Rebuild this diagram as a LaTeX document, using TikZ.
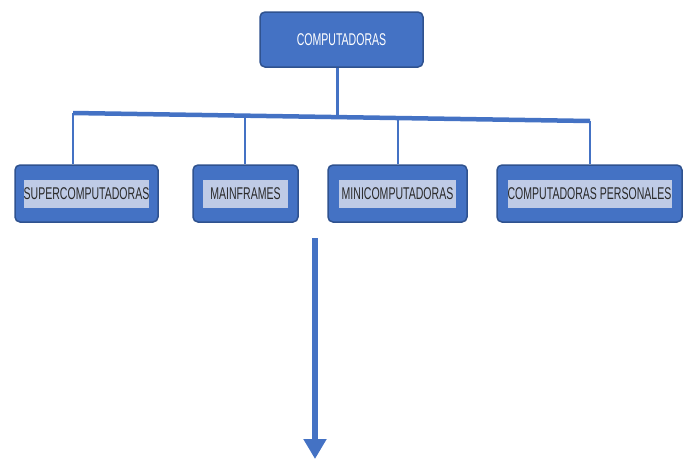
\documentclass[tikz,border=0pt]{standalone}
\usepackage{fontspec}
\newfontfamily\cond[FakeStretch=0.62]{Liberation Sans}
\usetikzlibrary{arrows.meta,calc}
\definecolor{boxblue}{HTML}{4472C4}
\definecolor{boxedge}{HTML}{2F528F}
\definecolor{innerfill}{HTML}{BFCBE6}
\definecolor{txt}{HTML}{2A2A2A}
\tikzset{
  outerbox/.style={draw=boxedge, line width=1.5pt, fill=boxblue, rounded corners=5pt, minimum height=57pt, inner sep=0pt},
  innerbox/.style={fill=innerfill, minimum height=28pt, inner sep=0pt, font=\cond\fontsize{17}{19}\selectfont, text=txt},
  topbox/.style={outerbox, minimum width=163pt, minimum height=55pt, font=\cond\fontsize{17}{19}\selectfont, text=white},
  link/.style={draw=boxblue, line width=2.5pt},
  bar/.style={draw=boxblue, line width=4.5pt},
}
\begin{document}
\begin{tikzpicture}[x=1pt,y=-1pt]
\useasboundingbox (0,0) rectangle (685,459);
\node[topbox] (top) at (341.5,39.5) {COMPUTADORAS};
\node[outerbox, minimum width=143pt] (sup) at (86.5,193.5) {};
\node[innerbox, minimum width=125pt] (supt) at (sup.center) {SUPERCOMPUTADORAS};
\node[outerbox, minimum width=105pt] (mai) at (245.5,193.5) {};
\node[innerbox, minimum width=85pt] (mait) at (mai.center) {MAINFRAMES};
\node[outerbox, minimum width=139pt] (min) at (397.5,193.5) {};
\node[innerbox, minimum width=117pt] (mint) at (min.center) {MINICOMPUTADORAS};
\node[outerbox, minimum width=185pt] (per) at (589.5,193.5) {};
\node[innerbox, minimum width=164pt] (pert) at (per.center) {COMPUTADORAS PERSONALES};
\coordinate (b1) at (73,113);
\coordinate (b4) at (590,121);
\coordinate (bm) at ($(b1)!0.512!(b4)$);
\coordinate (b2) at ($(b1)!0.333!(b4)$);
\coordinate (b3) at ($(b1)!0.629!(b4)$);
\draw[link] (top.south -| bm) -- (bm);
\draw[bar] (b1) -- (b4);
\draw[link] (b1) -- (b1 |- sup.north);
\draw[link] (b2) -- (b2 |- mai.north);
\draw[link] (b3) -- (b3 |- min.north);
\draw[link] (b4) -- (b4 |- per.north);
\coordinate (as) at (315,238);
\coordinate (ae) at (315,459);
\draw[draw=boxblue, line width=6pt, -{Triangle[width=22pt,length=20pt]}, color=boxblue] (as) -- (ae);
\end{tikzpicture}
\end{document}
